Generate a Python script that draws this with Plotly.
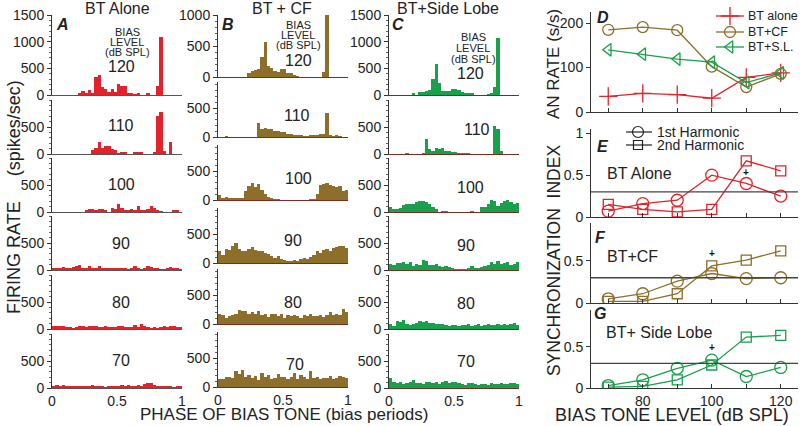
import plotly.graph_objects as go

W, H = 800, 426
FONT = "Liberation Sans, Arial, sans-serif"

# ---------------- data ----------------
levels = [120, 110, 100, 90, 80, 70]
n_bins = 40
phase_bins = [(i + 0.5) / n_bins for i in range(n_bins)]

# Panel A: BT alone (spikes/sec), 40 bins per bias period
bt_alone = {
    120: [0, 0, 0, 0, 0, 0, 0, 0, 40, 70, 30, 100, 40, 330, 370, 150, 120, 60, 120, 60,
          210, 160, 160, 40, 20, 10, 20, 0, 0, 20, 0, 0, 170, 1080, 0, 0, 0, 0, 0, 0],
    110: [0, 0, 0, 0, 0, 0, 0, 0, 0, 0, 0, 0, 80, 110, 230, 120, 150, 150, 100, 80,
          10, 40, 40, 0, 0, 20, 20, 20, 0, 0, 0, 20, 700, 780, 50, 0, 230, 0, 0, 0],
    100: [0, 0, 0, 0, 0, 0, 0, 0, 0, 0, 40, 50, 50, 30, 50, 60, 20, 0, 70, 60,
          150, 80, 20, 20, 50, 30, 120, 20, 20, 60, 110, 80, 40, 10, 0, 0, 0, 20, 20, 0],
    90: [40, 40, 20, 60, 40, 20, 60, 70, 90, 40, 30, 70, 20, 40, 70, 20, 20, 20, 20, 30,
         20, 20, 20, 10, 20, 70, 20, 10, 20, 70, 50, 20, 20, 10, 10, 40, 50, 40, 20, 10],
    80: [50, 60, 50, 50, 30, 20, 10, 20, 60, 50, 40, 50, 60, 60, 30, 40, 60, 30, 20, 40,
         60, 60, 20, 40, 20, 70, 30, 100, 60, 30, 10, 20, 10, 40, 50, 40, 50, 60, 20, 30],
    70: [20, 60, 20, 60, 40, 20, 20, 20, 40, 40, 40, 20, 60, 20, 30, 20, 10, 30, 20, 40,
         40, 50, 40, 50, 20, 40, 60, 40, 70, 100, 90, 60, 30, 40, 30, 20, 20, 10, 20, 40],
}

# Panel B: BT + CF
bt_cf = {
    120: [0, 0, 0, 0, 0, 0, 0, 0, 0, 60, 90, 120, 130, 320, 570, 170, 140, 90, 80, 130,
          130, 70, 60, 30, 10, 0, 0, 0, 0, 0, 0, 0, 80, 1000, 0, 0, 0, 0, 0, 0],
    110: [0, 0, 10, 0, 0, 0, 0, 0, 0, 0, 0, 0, 250, 130, 160, 130, 130, 110, 110, 90,
          80, 60, 50, 40, 30, 20, 10, 10, 20, 30, 30, 60, 50, 420, 20, 10, 40, 10, 0, 0],
    100: [80, 40, 60, 20, 40, 40, 40, 40, 150, 250, 300, 220, 280, 170, 100, 50, 20, 10, 10, 0,
          0, 0, 0, 0, 0, 0, 0, 0, 10, 10, 100, 260, 280, 300, 260, 250, 220, 240, 150, 180],
    90: [200, 130, 250, 230, 290, 350, 250, 200, 200, 250, 270, 230, 210, 200, 170, 150, 120, 90, 120, 70,
         60, 30, 20, 60, 40, 70, 90, 70, 110, 140, 200, 180, 230, 250, 200, 260, 280, 300, 290, 260],
    80: [180, 160, 100, 140, 150, 170, 250, 220, 230, 170, 200, 170, 220, 160, 180, 120, 180, 170, 140, 180,
         110, 160, 130, 150, 140, 110, 150, 130, 180, 140, 140, 160, 120, 160, 200, 150, 180, 160, 260, 200],
    70: [130, 140, 170, 180, 160, 280, 220, 290, 180, 200, 160, 190, 120, 250, 180, 200, 140, 160, 220, 170,
         180, 130, 170, 250, 140, 210, 170, 140, 280, 150, 180, 130, 160, 150, 190, 130, 160, 190, 170, 150],
}

# Panel C: BT + side lobe
bt_side_lobe = {
    120: [0, 0, 0, 0, 0, 0, 0, 30, 0, 60, 60, 80, 90, 300, 590, 230, 80, 80, 70, 120,
          110, 90, 60, 40, 30, 20, 0, 0, 0, 0, 10, 20, 150, 1060, 0, 0, 0, 0, 0, 0],
    110: [0, 0, 0, 0, 0, 10, 0, 0, 0, 0, 10, 280, 100, 60, 120, 90, 120, 60, 60, 40,
          40, 10, 10, 10, 10, 0, 0, 0, 0, 0, 0, 0, 520, 470, 60, 0, 0, 0, 0, 0],
    100: [90, 60, 50, 80, 130, 150, 150, 140, 180, 210, 200, 180, 150, 90, 50, 0, 10, 10, 0, 0,
          0, 0, 0, 0, 0, 10, 0, 0, 100, 100, 150, 230, 200, 120, 170, 200, 220, 190, 150, 160],
    90: [120, 100, 130, 130, 150, 110, 140, 80, 110, 100, 190, 160, 100, 90, 120, 80, 60, 70, 50, 40,
         10, 10, 10, 10, 30, 70, 20, 30, 60, 80, 100, 140, 110, 160, 120, 130, 150, 100, 120, 140],
    80: [100, 60, 150, 130, 160, 90, 80, 100, 120, 140, 130, 140, 120, 110, 100, 90, 100, 80, 60, 80,
         70, 60, 80, 70, 90, 60, 80, 90, 60, 80, 90, 70, 80, 100, 80, 90, 70, 90, 110, 80],
    70: [180, 120, 100, 110, 80, 90, 110, 140, 100, 90, 80, 110, 120, 90, 120, 80, 110, 130, 100, 120,
         110, 90, 70, 60, 90, 100, 80, 60, 70, 80, 60, 90, 70, 80, 100, 70, 80, 90, 100, 80],
}

# Right column
bias_levels_db = [70, 80, 90, 100, 110, 120]
an_rate_bt_alone = [35, 42, 39, 31, 78, 88]
an_rate_bt_cf = [185, 191, 184, 102, 56, 86]
an_rate_bt_sl = [140, 130, 119, 112, 66, 88]

si_alone_h1 = [0.07, 0.16, 0.20, 0.50, 0.40, 0.25]
si_alone_h2 = [0.15, 0.09, 0.06, 0.09, 0.67, 0.55]
si_cf_h1 = [0.05, 0.11, 0.26, 0.35, 0.29, 0.30]
si_cf_h2 = [0.02, 0.02, 0.11, 0.44, 0.51, 0.62]
si_sl_h1 = [0.03, 0.10, 0.24, 0.34, 0.14, 0.25]
si_sl_h2 = [0.01, 0.02, 0.10, 0.28, 0.62, 0.64]
sig_marks = {"E": (110, 0.53), "F": (100, 0.59), "G": (100, 0.49)}

# ---------------- style ----------------
RED = "#e2232b"
BROWN = "#8d6e2b"
GREEN = "#18a04a"
AXC = "#333333"
TXT = "#222222"


def px(x):
    return x / W


def py(y):
    return 1 - y / H


fig = go.Figure()
layout = {}
annotations = []
shapes = []


def note(x, y, text, size, **kw):
    d = dict(x=px(x), y=py(y), xref="paper", yref="paper", text=text, showarrow=False,
             xanchor="center", yanchor="middle", font=dict(size=size, family=FONT, color=TXT))
    d.update(kw)
    annotations.append(d)


cols = [
    ("A", bt_alone, RED, (52, 182), "#555555",
     [(15, 95, 1500), (100, 154, 1000), (158, 212, 1000), (216, 270, 1000), (275, 329, 1000), (334, 388, 1000)]),
    ("B", bt_cf, BROWN, (218, 348), "#7a2b22",
     [(15, 77, 1000), (82, 137, 950), (145, 200, 950), (208, 263, 950), (269, 324, 950), (332, 387, 950)]),
    ("C", bt_side_lobe, GREEN, (389, 519), "#7a2b22",
     [(15, 95, 1500), (100, 154, 1000), (158, 212, 1000), (216, 270, 1000), (275, 329, 1000), (334, 388, 1000)]),
]

ax = 0
for letter, data, color, (x0, x1), base_col, rows in cols:
    for r, lev in enumerate(levels):
        ax += 1
        top, bot, ymax = rows[r]
        xs = "x" if ax == 1 else f"x{ax}"
        ys = "y" if ax == 1 else f"y{ax}"
        xk = "xaxis" if ax == 1 else f"xaxis{ax}"
        yk = "yaxis" if ax == 1 else f"yaxis{ax}"
        fig.add_trace(go.Bar(x=phase_bins, y=data[lev], width=1 / n_bins,
                             marker=dict(color=color, line=dict(width=0)),
                             xaxis=xs, yaxis=ys, showlegend=False, hoverinfo="skip"))
        last = r == len(levels) - 1
        layout[xk] = dict(domain=[px(x0), px(x1)], anchor=ys, range=[0, 1], automargin=False,
                          showline=True, linecolor=base_col, linewidth=1.2, showgrid=False, zeroline=False,
                          tickvals=[0, 0.5, 1] if last else [], ticktext=["0", "0.5", "1"] if last else [],
                          ticks="", tickfont=dict(size=14, family=FONT, color=TXT), fixedrange=True)
        tv = [0, 500, 1000, 1500] if r == 0 else [0, 500]
        tv = [v for v in tv if v <= ymax]
        layout[yk] = dict(domain=[py(bot), py(top)], anchor=xs, range=[0, ymax], automargin=False,
                          showline=True, linecolor=AXC, linewidth=1, showgrid=False, zeroline=False,
                          tickvals=tv, ticks="outside", ticklen=4, tickcolor=AXC,
                          minor=dict(dtick=100, ticks="outside", ticklen=2, tickcolor="#666"),
                          tickfont=dict(size=14, family=FONT, color=TXT), fixedrange=True)

# level labels (pixel positions)
level_pos = {
    "A": [(121, 67), (121, 125), (121, 185), (121, 243), (121, 302), (121, 360)],
    "B": [(298, 60), (297, 115), (298, 178), (293, 240), (293, 302), (295, 364)],
    "C": [(470, 73), (477, 130), (470, 187), (466, 245), (466, 303), (466, 361)],
}
for letter in "ABC":
    for r, lev in enumerate(levels):
        x, y = level_pos[letter][r]
        note(x, y, str(lev), 16)

bias_pos = {"A": (127, [32, 42, 52]), "B": (298, [25, 35, 45]), "C": (473, [37, 48, 59])}
for letter, (x, ys_) in bias_pos.items():
    for t, y in zip(["BIAS", "LEVEL", "(dB SPL)"], ys_):
        note(x, y, t, 11)

for letter, x in [("A", 62), ("B", 228), ("C", 398)]:
    note(x, 24, f"<b><i>{letter}</i></b>", 16)

for t, x in [("BT Alone", 117), ("BT + CF", 282), ("BT+Side Lobe", 448)]:
    note(x, 9, t, 16)

note(14, 197, "FIRING RATE     (spikes/sec)", 18, textangle=-90)
note(284, 414, "PHASE OF BIAS TONE (bias periods)", 17)

# ---------------- right column ----------------
right = [
    ("D", (12, 112), [0, 225], [0, 100, 200], ["0", "100", "200"]),
    ("E", (129, 217), [0, 1.05], [0, 0.5, 1], ["0", "0.5", "1"]),
    ("F", (223, 303), [0, 0.95], [0, 0.5], ["0", "0.5"]),
    ("G", (310, 388), [0, 0.95], [0, 0.5], ["0", "0.5"]),
]
raxes = {}
for name, (top, bot), yr, tv, tt in right:
    ax += 1
    xs, ys = f"x{ax}", f"y{ax}"
    raxes[name] = (xs, ys)
    last = name == "G"
    layout[f"xaxis{ax}"] = dict(domain=[px(591), px(798)], anchor=ys, range=[65, 125], automargin=False,
                                showline=True, linecolor=AXC, linewidth=1, showgrid=False, zeroline=False,
                                tickvals=bias_levels_db,
                                ticktext=["", "80", "", "100", "", "120"] if last else [""] * 6,
                                ticks="inside", ticklen=4, tickcolor=AXC,
                                tickfont=dict(size=14, family=FONT, color=TXT), fixedrange=True)
    layout[f"yaxis{ax}"] = dict(domain=[py(bot), py(top)], anchor=xs, range=yr, automargin=False,
                                showline=True, linecolor=AXC, linewidth=1, showgrid=False, zeroline=False,
                                tickvals=tv, ticktext=tt, ticks="outside", ticklen=4, tickcolor=AXC,
                                tickfont=dict(size=14, family=FONT, color=TXT), fixedrange=True)
    if name != "D":
        shapes.append(dict(type="line", xref=f"{xs} domain", yref=ys, x0=0, x1=1, y0=0.3, y1=0.3,
                           line=dict(color="#444", width=1.3)))

xs, ys = raxes["D"]
an_series = [(an_rate_bt_alone, "BT alone", RED, "cross-thin-open", 13),
             (an_rate_bt_cf, "BT+CF", BROWN, "circle-open", 11),
             (an_rate_bt_sl, "BT+S.L.", GREEN, "triangle-left-open", 11)]
for yv, nm, col, sym, sz in an_series:
    fig.add_trace(go.Scatter(x=bias_levels_db, y=yv, name=nm, mode="lines+markers", xaxis=xs, yaxis=ys,
                             line=dict(color=col, width=1.3),
                             marker=dict(symbol=sym, size=sz, color=col, line=dict(color=col, width=1.3)),
                             showlegend=False, hoverinfo="skip"))

for name, h1, h2, col in [("E", si_alone_h1, si_alone_h2, RED), ("F", si_cf_h1, si_cf_h2, BROWN),
                          ("G", si_sl_h1, si_sl_h2, GREEN)]:
    xs, ys = raxes[name]
    fig.add_trace(go.Scatter(x=bias_levels_db, y=h1, mode="lines+markers", xaxis=xs, yaxis=ys,
                             line=dict(color=col, width=1.3),
                             marker=dict(symbol="circle-open", size=12, color=col, line=dict(width=1.3)),
                             showlegend=False, hoverinfo="skip"))
    fig.add_trace(go.Scatter(x=bias_levels_db, y=h2, mode="lines+markers", xaxis=xs, yaxis=ys,
                             line=dict(color=col, width=1.3),
                             marker=dict(symbol="square-open", size=10, color=col, line=dict(width=1.3)),
                             showlegend=False, hoverinfo="skip"))
    sx, sy = sig_marks[name]
    annotations.append(dict(x=sx, y=sy, xref=xs, yref=ys, text="<b>+</b>", showarrow=False,
                            xanchor="center", yanchor="middle",
                            font=dict(size=10, family=FONT, color="#111")))

# ---------------- hand-placed legends on a full-page pixel overlay ----------------
ax += 1
ox, oy = f"x{ax}", f"y{ax}"
layout[f"xaxis{ax}"] = dict(domain=[0, 1], range=[0, W], visible=False, anchor=oy, fixedrange=True,
                            automargin=False)
layout[f"yaxis{ax}"] = dict(domain=[0, 1], range=[H, 0], visible=False, anchor=ox, fixedrange=True,
                            automargin=False)
legend_d = [(16, 0), (32, 1), (47, 2)]
for ly, i in legend_d:
    _, nm, col, sym, sz = an_series[i]
    fig.add_trace(go.Scatter(x=[716, 744], y=[ly, ly], mode="lines", xaxis=ox, yaxis=oy,
                             line=dict(color=col, width=1.3), showlegend=False, hoverinfo="skip"))
    fig.add_trace(go.Scatter(x=[730], y=[ly], mode="markers", xaxis=ox, yaxis=oy,
                             marker=dict(symbol=sym, size=sz, color=col, line=dict(color=col, width=1.3)),
                             showlegend=False, hoverinfo="skip"))
    note(746, ly, nm, 12.5, xanchor="left")
for ly, nm, sym, sz in [(132, "1st Harmonic", "circle-open", 11), (145, "2nd Harmonic", "square-open", 9)]:
    fig.add_trace(go.Scatter(x=[626, 652], y=[ly, ly], mode="lines", xaxis=ox, yaxis=oy,
                             line=dict(color="#222", width=1.2), showlegend=False, hoverinfo="skip"))
    fig.add_trace(go.Scatter(x=[638], y=[ly], mode="markers", xaxis=ox, yaxis=oy,
                             marker=dict(symbol=sym, size=sz, color="#222", line=dict(color="#222", width=1.2)),
                             showlegend=False, hoverinfo="skip"))
    note(655, ly, nm, 14, xanchor="left")

for letter, x, y in [("D", 603, 18), ("E", 603, 146), ("F", 600, 238), ("G", 600, 313)]:
    note(x, y, f"<b><i>{letter}</i></b>", 16)
for t, x, y in [("BT Alone", 605, 173), ("BT+CF", 605, 256), ("BT+ Side Lobe", 604, 332)]:
    note(x, y, t, 16, xanchor="left")

note(554, 64, "AN RATE (s/s)", 17, textangle=-90)
note(554, 261, "SYNCHRONIZATION  INDEX", 17.5, textangle=-90)
note(672, 415, "BIAS TONE LEVEL (dB SPL)", 18)

fig.update_layout(
    template="none",
    width=W, height=H, autosize=False,
    margin=dict(l=0, r=0, t=0, b=0, pad=0),
    paper_bgcolor="white", plot_bgcolor="rgba(0,0,0,0)",
    bargap=0, barmode="overlay", showlegend=False,
    font=dict(family=FONT, color=TXT),
    annotations=annotations, shapes=shapes,
    **layout,
)

# remove the browser's default 8px page margin so the figure sits at the window origin
fig.write_html("out.html", config={"displayModeBar": False},
               post_script="document.body.style.margin='0';document.body.style.overflow='hidden';")
